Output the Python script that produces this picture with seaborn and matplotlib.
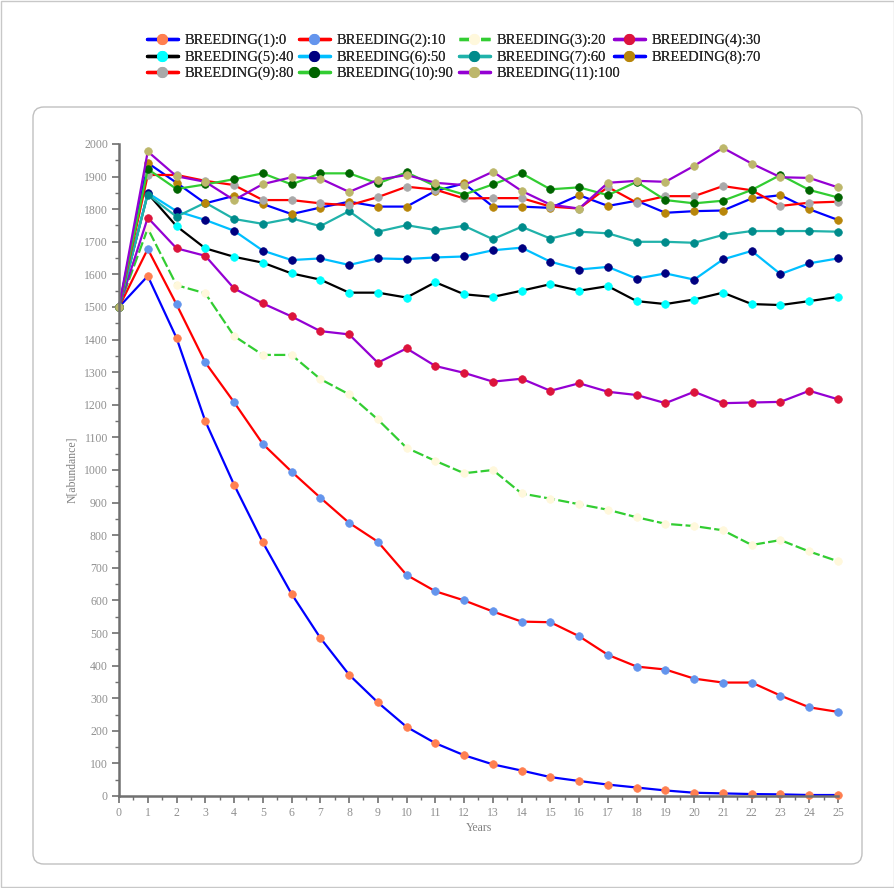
import matplotlib
matplotlib.use("Agg")
import matplotlib.pyplot as plt
from matplotlib.lines import Line2D
from matplotlib.patches import FancyBboxPatch, Rectangle
import seaborn as sns
import pandas as pd

sns.set_theme(style="white")
plt.rcParams["font.family"] = ["Liberation Serif", "DejaVu Serif"]

years = list(range(26))

labels = [
    "BREEDING(1):0", "BREEDING(2):10", "BREEDING(3):20", "BREEDING(4):30",
    "BREEDING(5):40", "BREEDING(6):50", "BREEDING(7):60", "BREEDING(8):70",
    "BREEDING(9):80", "BREEDING(10):90", "BREEDING(11):100",
]

breeding_1 = [1500, 1595, 1405, 1150, 955, 778, 620, 485, 372, 287, 212, 162, 125,
              97, 78, 58, 46, 35, 26, 17, 10, 8, 6, 5, 3, 3]
breeding_2 = [1500, 1678, 1508, 1330, 1208, 1080, 995, 915, 838, 780, 678, 628, 600,
              566, 535, 533, 490, 433, 397, 388, 360, 348, 348, 308, 272, 258]
breeding_3 = [1500, 1741, 1567, 1542, 1411, 1353, 1353, 1279, 1232, 1155, 1068, 1028, 990,
              1000, 928, 912, 895, 878, 855, 835, 828, 815, 770, 785, 750, 720]
breeding_4 = [1500, 1774, 1680, 1657, 1557, 1511, 1471, 1426, 1416, 1329, 1373, 1319, 1298,
              1271, 1280, 1243, 1266, 1240, 1230, 1205, 1240, 1205, 1207, 1209, 1243, 1217]
breeding_5 = [1500, 1848, 1748, 1680, 1654, 1636, 1603, 1584, 1544, 1544, 1529, 1576, 1539,
              1531, 1550, 1570, 1550, 1564, 1518, 1509, 1523, 1544, 1509, 1506, 1518, 1531]
breeding_6 = [1500, 1850, 1794, 1767, 1734, 1673, 1644, 1649, 1629, 1649, 1647, 1652, 1655,
              1674, 1682, 1639, 1615, 1623, 1587, 1603, 1584, 1646, 1672, 1601, 1634, 1649]
breeding_7 = [1500, 1845, 1777, 1820, 1770, 1755, 1772, 1748, 1794, 1731, 1751, 1736, 1749,
              1708, 1746, 1710, 1731, 1726, 1700, 1700, 1697, 1721, 1733, 1733, 1733, 1731]
breeding_8 = [1500, 1942, 1881, 1818, 1841, 1816, 1785, 1805, 1823, 1808, 1808, 1856, 1879,
              1808, 1808, 1804, 1843, 1810, 1826, 1789, 1794, 1796, 1833, 1843, 1800, 1767]
breeding_9 = [1500, 1905, 1905, 1887, 1874, 1828, 1828, 1818, 1812, 1837, 1869, 1860, 1833,
              1834, 1834, 1808, 1802, 1868, 1820, 1840, 1840, 1871, 1858, 1810, 1820, 1823]
breeding_10 = [1500, 1923, 1862, 1876, 1892, 1910, 1876, 1910, 1910, 1879, 1913, 1871, 1845,
               1876, 1910, 1861, 1867, 1843, 1884, 1828, 1818, 1826, 1859, 1905, 1859, 1836]
breeding_11 = [1500, 1977, 1901, 1884, 1828, 1877, 1898, 1894, 1853, 1890, 1905, 1881, 1874,
               1915, 1856, 1814, 1802, 1881, 1887, 1884, 1933, 1988, 1940, 1898, 1896, 1867]

series = [breeding_1, breeding_2, breeding_3, breeding_4, breeding_5, breeding_6,
          breeding_7, breeding_8, breeding_9, breeding_10, breeding_11]

line_colors = ["#0000FF", "#FF0000", "#32CD32", "#9400D3", "#000000", "#00BFFF",
               "#20B2AA", "#0000FF", "#FF0000", "#32CD32", "#9400D3"]
marker_colors = ["#FF7F50", "#6495ED", "#FFF8DC", "#DC143C", "#00FFFF", "#000080",
                 "#008B8B", "#B8860B", "#A9A9A9", "#006400", "#BDB76B"]
line_styles = ["-", "-", (0, (5, 1.5)), "-", "-", "-", "-", "-", "-", "-", "-"]

fig = plt.figure(figsize=(8.95, 8.88), dpi=100)
fig.patch.set_facecolor("white")

# outer frame and rounded panel
fig.add_artist(Rectangle((0.001, 0.001), 0.998, 0.998, transform=fig.transFigure,
                         fill=False, edgecolor="#c8c8c8", linewidth=1.0))
fig.add_artist(FancyBboxPatch((33 / 895, 1 - 864 / 888), (862 - 33) / 895, (864 - 107) / 888,
                              boxstyle="round,pad=0,rounding_size=0.012",
                              transform=fig.transFigure, fill=False,
                              edgecolor="#c0c0c0", linewidth=1.0))

ax = fig.add_axes([119 / 895, 1 - 796 / 888, (838 - 119) / 895, (796 - 144) / 888])
ax.set_facecolor("none")

handles = []
for vals, lab, lc, mc, ls in zip(series, labels, line_colors, marker_colors, line_styles):
    df = pd.DataFrame({"Years": years, "N": vals})
    sns.lineplot(data=df, x="Years", y="N", ax=ax, color=lc, linestyle=ls, linewidth=1.6,
                 marker="o", markersize=5.5, markerfacecolor=mc, markeredgecolor=mc,
                 markeredgewidth=0.5, clip_on=False, legend=False)
    handles.append(Line2D([], [], color=lc, linestyle=ls, linewidth=2.4, marker="o",
                          markersize=7, markerfacecolor=mc, markeredgecolor=mc))

ax.set_xlim(0, 25)
ax.set_ylim(0, 2000)
ax.set_xticks(range(0, 26))
ax.set_xticks([i + 0.5 for i in range(25)], minor=True)
ax.set_yticks(range(0, 2001, 100))
ax.set_yticks(range(50, 2000, 100), minor=True)

for side in ["top", "right"]:
    ax.spines[side].set_visible(False)
for side in ["left", "bottom"]:
    ax.spines[side].set_color("#707070")
    ax.spines[side].set_linewidth(1.8)

ax.tick_params(axis="both", which="major", direction="out", length=5, width=1.2,
               color="#707070", labelcolor="#909090", labelsize=8.5, pad=3,
               bottom=True, left=True)
ax.tick_params(axis="both", which="minor", direction="out", length=3, width=1.0,
               color="#707070", bottom=True, left=True)

ax.set_xlabel("Years", color="#808080", fontsize=8.5, labelpad=2)
ax.set_ylabel("N[abundance]", color="#808080", fontsize=8.5, labelpad=4)

# legend laid out as four equal-width columns, filled row by row
column_x = [147, 299, 459, 614]
for col, x0 in enumerate(column_x):
    idx = list(range(col, len(labels), 4))
    leg = fig.legend([handles[i] for i in idx], [labels[i] for i in idx],
                     loc="upper left", bbox_to_anchor=(x0 / 895, 1 - 34 / 888), ncol=1,
                     frameon=False, fontsize=10.5, handlelength=2.1, handletextpad=0.45,
                     labelspacing=0.2, borderaxespad=0, borderpad=0)
    fig.add_artist(leg)

fig.savefig("out.png", dpi=100, facecolor="white")
